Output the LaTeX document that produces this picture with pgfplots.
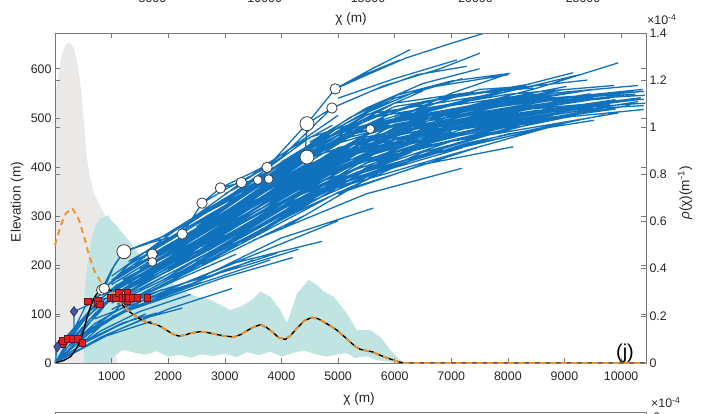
\documentclass[border=0pt]{standalone}
\usepackage{fontspec}
\setmainfont{Liberation Sans}
\usepackage{pgfplots}
\pgfplotsset{compat=1.18}
\usepackage{pgfplotstable}

\definecolor{profileblue}{RGB}{16,114,189}
\definecolor{shadegray}{RGB}{234,233,231}
\definecolor{shadecyan}{RGB}{191,228,225}
\definecolor{densorange}{RGB}{242,142,43}
\definecolor{knickred}{RGB}{226,30,36}
\definecolor{knickedge}{RGB}{110,20,20}
\definecolor{divblue}{RGB}{70,84,168}
\definecolor{divedge}{RGB}{30,35,90}
\definecolor{ringgray}{RGB}{60,60,60}
\definecolor{labelgray}{RGB}{38,38,38}
\definecolor{framegray}{RGB}{120,120,120}

% probability density of chi at the outlets (x 1e-4 per m)
\pgfplotstableread{
chi rho
0 0
0 1.117
71 1.244
130 1.315
189 1.350
260 1.360
336 1.336
395 1.273
441 1.202
483 1.103
524 0.990
559 0.876
617 0.790
688 0.720
776 0.678
894 0.622
950 0.52
1000 0.31
1050 0.10
1100 0
}\grayband

% spread of the density (upper edge, then lower edge back)
\pgfplotstableread{
chi rho
520 0
490 0.125
512 0.268
571 0.410
630 0.508
718 0.587
806 0.614
894 0.622
953 0.628
983 0.607
1071 0.587
1300 0.520
1541 0.445
1800 0.385
2100 0.333
2397 0.289
2746 0.268
3098 0.225
3275 0.239
3481 0.268
3628 0.304
3804 0.281
3981 0.225
4098 0.168
4275 0.295
4480 0.352
4628 0.331
4745 0.304
4921 0.281
5157 0.210
5333 0.139
5450 0.141
5568 0.139
5744 0.112
5921 0.056
6097 0.012
6150 0
5900 0.006
5700 0.012
5500 0.029
5300 0.021
5150 0.042
5000 0.037
4800 0.027
4600 0.037
4400 0.054
4200 0.042
4000 0.027
3800 0.048
3600 0.033
3400 0.046
3200 0.025
3000 0.040
2800 0.029
2600 0.037
2400 0.023
2200 0.035
2000 0.027
1800 0.050
1600 0.035
1400 0.044
1200 0.056
1050 0.029
950 0
}\cyanband

% mean density of chi (x 1e-4 per m)
\pgfplotstableread{
chi rho
0 0.500
100 0.582
190 0.634
306 0.657
424 0.607
512 0.537
600 0.458
689 0.395
806 0.345
894 0.316
950 0.311
983 0.308
1071 0.281
1140 0.258
1217 0.239
1300 0.221
1393 0.204
1500 0.187
1600 0.175
1700 0.168
1806 0.162
1900 0.150
2011 0.133
2100 0.121
2187 0.114
2300 0.119
2397 0.127
2570 0.133
2700 0.129
2864 0.121
3000 0.114
3157 0.110
3280 0.121
3393 0.137
3500 0.152
3628 0.162
3730 0.152
3834 0.133
3950 0.108
4069 0.100
4170 0.119
4275 0.148
4400 0.179
4539 0.193
4650 0.187
4745 0.175
4860 0.158
4980 0.139
5100 0.114
5215 0.089
5300 0.071
5392 0.058
5500 0.052
5598 0.048
5700 0.037
5803 0.027
5900 0.019
5979 0.012
6080 0.004
6156 0.001
6250 0
10440 0
}\densitycurve

% trunk curve in elevation units (m)
\pgfplotstableread{
chi z
0 0
150 5
277 13
370 28
453 47
520 72
571 95
620 112
660 125
720 138
777 146
865 150
930 150
983 148
1071 135
1140 124
1217 115
1300 106
1393 98
1500 90
1600 84
1700 81
1806 78
1900 72
2011 64
2100 58
2187 55
2300 57
2397 61
2570 64
2700 62
2864 58
3000 55
3157 53
3280 58
3393 66
3500 73
3628 78
3730 73
3834 64
3950 52
4069 48
4170 57
4275 71
4400 86
4539 93
4650 90
4745 84
4860 76
4980 67
5100 55
5215 43
5300 34
5392 28
5500 25
5598 23
5700 18
5803 13
5900 9
5979 6
6080 2
6156 0.5
6250 0
10440 0
}\elevcurve

% tributary chi-elevation profiles, separated by nan rows
\pgfplotstableread{
chi z
900 140
2500 240
5000 422
7480 491
nan nan
1000 122
3000 240
5500 408
8120 486
nan nan
1100 172
2500 272
4500 419
6380 488
nan nan
1200 151
3500 313
6000 473
9050 530
nan nan
1300 207
3000 321
5000 472
6900 522
nan nan
1000 109
2500 201
4950 354
nan nan
1500 191
4000 361
7000 492
10300 537
nan nan
1600 164
4000 313
6500 450
9400 511
nan nan
1800 251
3500 371
5500 507
7950 552
nan nan
2000 211
4500 378
7500 480
9900 518
nan nan
2200 184
4500 338
6850 436
nan nan
2500 278
5000 464
8000 530
10380 558
nan nan
1200 170
2500 250
4100 350
nan nan
1400 131
3000 221
4450 303
nan nan
1700 221
3500 342
6000 497
8450 548
nan nan
3000 265
5500 438
8500 512
10400 525
nan nan
2800 276
5000 439
7500 511
9450 549
nan nan
3500 271
6000 430
8950 499
nan nan
1000 177
2000 260
3500 385
5000 505
nan nan
2300 208
4500 362
6600 446
nan nan
3200 338
5500 499
8000 548
9880 566
nan nan
4000 345
6500 471
9150 537
nan nan
1500 174
3000 271
5000 406
6600 467
nan nan
2600 201
5000 348
7550 443
nan nan
3800 363
6000 494
8500 533
10420 546
nan nan
4500 354
7000 452
9950 510
nan nan
1900 169
3500 278
5500 416
7100 462
nan nan
2900 325
4500 460
6500 533
8400 569
nan nan
5000 439
7500 499
10350 541
nan nan
1100 140
2000 193
3500 292
5100 394
nan nan
2100 236
4000 369
6500 506
9000 558
nan nan
3300 245
5500 393
8000 467
9520 495
nan nan
4200 418
6000 523
8000 559
9400 577
nan nan
1300 172
3000 290
5500 461
7900 512
nan nan
2400 227
4000 329
6000 458
8600 524
nan nan
5500 431
8000 490
10400 517
nan nan
1600 225
3000 315
4500 444
5900 513
nan nan
3600 327
6000 480
8500 538
10250 548
nan nan
2700 229
4500 346
7000 445
8550 497
nan nan
4800 351
7000 425
9050 491
nan nan
1000 160
1800 216
3000 302
4550 429
nan nan
2000 248
3500 356
5500 484
7450 523
nan nan
3000 277
5000 422
7000 478
9600 528
nan nan
6000 508
8000 542
10300 566
nan nan
1800 152
3000 234
4500 321
6050 402
nan nan
2200 271
4000 409
6000 530
7400 553
nan nan
3400 279
5000 398
7500 467
8950 513
nan nan
1400 200
2500 261
4000 361
5600 472
nan nan
4000 273
6000 408
8500 475
nan nan
2500 250
4500 395
7000 505
9500 541
nan nan
1100 125
2200 185
3800 290
5600 398
nan nan
1500 150
3200 255
5200 380
7800 470
nan nan
2000 190
4200 330
6800 460
9700 520
nan nan
1200 185
2600 265
4300 375
6200 476
nan nan
1700 195
3700 310
6200 445
8800 505
nan nan
2300 258
4300 392
6700 510
8900 552
nan nan
1900 230
3800 340
6000 455
8200 510
nan nan
2600 240
4700 380
7200 485
10100 535
nan nan
1300 160
2800 245
4600 350
6300 430
nan nan
3000 300
5200 430
7800 515
10200 555
nan nan
1000 143
2200 224
4000 337
6500 478
9200 539
nan nan
1200 137
2800 240
5000 398
7600 483
nan nan
1400 173
3000 284
5500 454
8300 527
nan nan
1600 203
3400 320
6000 487
9000 549
nan nan
1800 187
3600 313
6200 460
9800 528
nan nan
2000 229
3800 348
6400 483
10000 546
nan nan
2200 207
4200 337
7000 465
10150 525
nan nan
1100 159
2400 249
4400 402
6800 496
nan nan
1300 152
2700 246
4800 400
7300 487
nan nan
1500 213
2800 305
4700 458
6700 528
nan nan
2400 260
4300 411
6900 510
9300 554
nan nan
2600 235
4600 377
7200 477
10300 533
nan nan
2800 223
4800 359
7300 449
9700 506
nan nan
3000 302
5000 455
7500 524
10300 553
nan nan
1700 192
3300 299
5800 458
8700 530
nan nan
1900 235
3200 318
5300 468
7700 523
nan nan
2100 212
4100 354
6600 479
9900 532
nan nan
1000 169
1800 234
3200 332
5000 480
nan nan
3500 335
5800 487
8200 536
10400 554
nan nan
3700 311
6100 453
8800 521
nan nan
1300 187
2400 266
4000 393
5800 502
nan nan
2500 206
4200 313
6500 430
9000 505
nan nan
4200 378
6500 492
9200 544
nan nan
4600 434
7000 518
9600 559
nan nan
2000 187
3600 291
5400 418
7000 472
nan nan
1600 141
3000 228
5000 365
7200 439
nan nan
2800 258
4800 408
7200 491
9900 537
nan nan
3200 305
5200 448
7700 511
10400 538
nan nan
1400 152
2600 223
4200 329
6000 437
nan nan
2200 230
3900 346
6300 483
8700 535
nan nan
2000 265
2800 320
3800 385
4800 450
nan nan
2400 290
3300 345
4300 410
5300 480
nan nan
3000 345
4000 405
5000 470
6000 530
nan nan
3500 370
4500 440
5500 505
6500 555
nan nan
4000 410
5000 480
6000 540
7200 580
nan nan
4500 450
5500 520
6500 570
7500 600
nan nan
5000 480
6000 545
7000 575
8000 590
nan nan
2700 300
3600 360
4700 430
5800 500
nan nan
824 149
1000 190
1217 227
nan nan
870 152
1050 200
1217 227
nan nan
1217 227
1700 246
2247 263
nan nan
2247 263
2597 326
2922 357
3293 368
3581 373
3775 375
nan nan
2597 326
3100 360
3746 399
4451 488
4951 559
5600 592
6200 622
7000 652
7566 672
nan nan
3775 375
4451 420
5200 470
6000 512
6800 540
nan nan
4451 488
4892 520
5600 555
6400 588
7272 605
nan nan
4951 559
5600 600
6273 639
nan nan
5568 477
6500 522
7500 558
8330 564
nan nan
4420 425
4451 488
nan nan
1718 222
2400 262
3300 322
4500 402
nan nan
1718 206
2500 248
3500 312
4600 382
nan nan
1217 227
2000 262
3000 330
4000 395
nan nan
3293 368
4000 420
4892 520
nan nan
2922 357
3600 395
4200 440
4900 485
nan nan
4892 520
5800 565
6800 600
7507 632
nan nan
4951 559
5500 590
6093 618
nan nan
5000 540
6000 580
7097 618
nan nan
5300 500
6500 560
8010 588
nan nan
6093 503
7000 550
8037 591
nan nan
5500 500
7000 545
8448 561
nan nan
6500 500
8500 560
9948 612
nan nan
5500 480
7500 540
9271 588
nan nan
6000 500
7800 552
9153 592
nan nan
6000 470
7500 530
9036 564
nan nan
7000 500
8500 525
9977 552
nan nan
6500 480
8500 515
10430 530
nan nan
7500 510
9000 532
9800 540
nan nan
3581 373
4300 430
5200 500
6300 560
nan nan
0 0
1000 62
2000 110
3128 152
nan nan
0 0
800 52
1600 92
2247 112
nan nan
1500 118
3000 190
3922 224
nan nan
1800 140
3200 205
4716 248
nan nan
2500 170
4000 255
5626 316
nan nan
3500 250
5500 345
7185 397
nan nan
5000 345
6500 405
8095 441
nan nan
5500 385
7000 437
8213 467
nan nan
6500 440
8000 482
9153 503
nan nan
1000 95
2000 135
3000 175
4200 215
nan nan
1200 105
2500 160
3800 210
nan nan
2000 150
3500 220
5000 290
nan nan
700 90
1500 125
2600 165
nan nan
1100 120
2200 160
3400 200
4300 232
nan nan
0 0
600 60
1200 104
1630 133
nan nan
0 0
500 58
1000 100
1306 133
nan nan
0 0
400 58
800 105
983 133
nan nan
0 0
600 48
1200 82
1800 102
nan nan
0 0
300 60
582 126
nan nan
0 0
400 75
758 127
nan nan
0 0
700 70
1400 115
2000 140
nan nan
0 0
900 55
1700 85
nan nan
0 0
250 45
500 85
794 120
nan nan
0 0
500 40
1100 75
1600 100
nan nan
0 0
350 40
800 80
1300 112
nan nan
100 20
700 80
1300 120
1900 150
nan nan
0 0
800 65
1500 105
2400 140
nan nan
120 40
500 90
900 125
1400 160
nan nan
306 50
700 100
1000 133
nan nan
0 0
42 33
120 40
nan nan
130 45
600 105
1000 140
nan nan
220 50
700 120
1100 160
nan nan
483 41
900 85
1400 118
nan nan
335 50
335 105
nan nan
335 105
550 116
758 127
nan nan
395 50
800 110
1200 150
1700 180
nan nan
983 133
1500 170
2200 215
nan nan
1129 144
1700 185
2500 235
nan nan
1276 144
2000 195
3000 260
nan nan
1453 133
2200 172
3200 222
nan nan
1630 133
2500 165
3500 210
nan nan
582 126
1000 150
1500 180
nan nan
758 127
1200 165
1800 205
nan nan
582 126
983 133
1630 133
nan nan
824 149
1200 182
1800 222
nan nan
870 152
1300 200
2000 248
}\profiles

% knickpoints on the profiles (m)
\pgfplotstableread{
chi z
120 40
130 45
220 50
306 50
395 50
483 41
582 126
748 122
758 127
794 120
983 133
1040 133
1071 133
1129 144
1188 133
1240 133
1276 144
1276 126
1306 133
1364 133
1453 133
1630 133
}\squarepts

\pgfplotstableread{
chi z
42 33
335 105
}\diamondpts

\pgfplotstableread{
chi z
1217 227
4451 488
4451 420
}\bigrings

\pgfplotstableread{
chi z
824 149
870 152
1718 222
2247 263
2597 326
2922 357
3293 368
3746 399
4892 520
4951 559
}\midrings

\pgfplotstableread{
chi z
1718 206
3581 373
3775 375
5568 477
}\smallrings

\pgfplotsset{
  chipanel/.style={
    width=591pt, height=330pt, scale only axis,
    at={(0pt,0pt)}, anchor=south west,
    xmin=0, xmax=10440,
    clip=false,
    unbounded coords=jump,
    scaled x ticks=false, scaled y ticks=false,
    axis line style={framegray, line width=0.6pt},
    tick style={framegray, line width=0.6pt},
    major tick length=5pt,
    tick label style={font=\fontsize{12.4}{14}\selectfont, text=labelgray},
    /pgf/number format/assume math mode=true,
    /pgf/number format/1000 sep={},
  },
}

\begin{document}
\begin{tikzpicture}
% shaded density bands (right scale)
\begin{axis}[chipanel, ymin=0, ymax=1.4, hide axis]
  \addplot[draw=none, fill=shadegray] table {\grayband} \closedcycle;
  \addplot[draw=none, fill=shadecyan] table {\cyanband} -- cycle;
\end{axis}

% profiles and trunk curve (left scale)
\begin{axis}[chipanel, ymin=0, ymax=673, axis on top,
    xtick={1000,2000,...,10000}, ytick={0,100,...,600},
    xticklabel style={yshift=-5pt}]
  \addplot[profileblue, line width=1.3pt] table {\profiles};
  \addplot[black, line width=1.4pt] table {\elevcurve};
\end{axis}

% mean density (right scale)
\begin{axis}[chipanel, ymin=0, ymax=1.4, hide x axis,
    ytick={0,0.2,0.4,0.6,0.8,1,1.2,1.4},
    yticklabels={0,0.2,0.4,0.6,0.8,1,1.2,1.4},
    yticklabel pos=right]
  \addplot[densorange, line width=1.9pt, dash pattern=on 6pt off 4.5pt] table {\densitycurve};
\end{axis}

% knickpoints and divides (left scale)
\begin{axis}[chipanel, ymin=0, ymax=673, hide axis]
  \addplot[only marks, mark=square*, mark size=3.4pt,
    mark options={fill=knickred, draw=knickedge, line width=0.5pt}] table {\squarepts};
  \addplot[only marks, mark=diamond*, mark size=5pt,
    mark options={fill=divblue, draw=divedge, line width=0.5pt}] table {\diamondpts};
  \addplot[only marks, mark=*, mark size=7pt,
    mark options={fill=white, draw=ringgray, line width=0.8pt}] table {\bigrings};
  \addplot[only marks, mark=*, mark size=5.2pt,
    mark options={fill=white, draw=ringgray, line width=0.8pt}] table {\midrings};
  \addplot[only marks, mark=*, mark size=4.4pt,
    mark options={fill=white, draw=ringgray, line width=0.8pt}] table {\smallrings};
\end{axis}

% axis titles
\node[font=\fontsize{13.6}{16}\selectfont, text=labelgray, rotate=90] at (-38pt,161pt) {Elevation (m)};
\node[font=\fontsize{13.6}{16}\selectfont, text=labelgray, rotate=90] at (630pt,170pt) {\textit{ρ}(χ)(m\textsuperscript{-1})};
\node[font=\fontsize{13.6}{16}\selectfont, text=labelgray] at (304pt,-36pt) {χ (m)};
\node[font=\fontsize{12.4}{14}\selectfont, text=labelgray, anchor=base west, inner sep=0pt] at (592pt,338pt) {×10\textsuperscript{-4}};
\node[font=\fontsize{20}{24}\selectfont, text=black, anchor=base] at (570pt,4.5pt) {(j)};

% edge of the panel above
\node[font=\fontsize{13.6}{16}\selectfont, text=labelgray] at (296pt,344.5pt) {χ (m)};
\foreach \px/\lab in {97.5/5000, 209.7/10000, 313/15000, 420.5/20000, 528/25000}
  \node[font=\fontsize{12.4}{14}\selectfont, text=labelgray, anchor=base] at (\px pt,360pt) {\lab};

% edge of the panel below
\draw[framegray, line width=0.6pt] (0pt,-62pt) -- (0pt,-49pt) -- (591pt,-49pt) -- (591pt,-62pt);
\node[font=\fontsize{12.4}{14}\selectfont, text=labelgray, anchor=base west, inner sep=0pt] at (596pt,-45pt) {×10\textsuperscript{-4}};
\node[font=\fontsize{12.4}{14}\selectfont, text=labelgray, anchor=north west, inner sep=0pt] at (598pt,-49.5pt) {6};

\pgfresetboundingbox
\useasboundingbox (-55pt,-51pt) rectangle (649pt,363pt);
\end{tikzpicture}
\end{document}
